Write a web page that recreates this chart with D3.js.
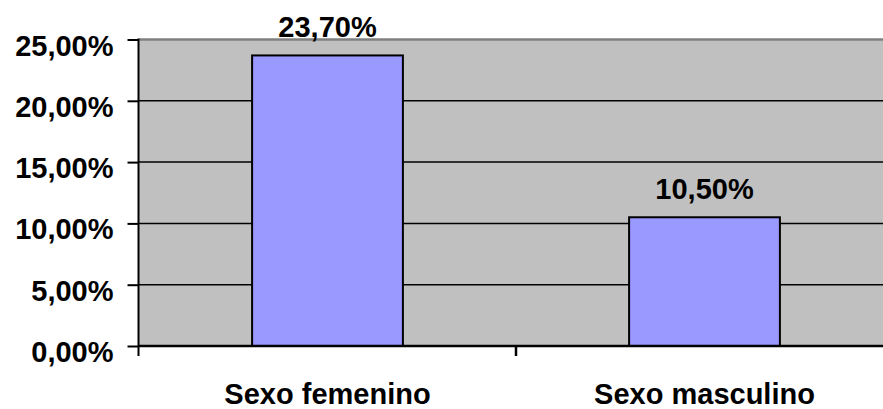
<!DOCTYPE html>
<html>
<head>
<meta charset="utf-8">
<script src="https://cdn.jsdelivr.net/npm/d3@7"></script>
<style>
  html, body { margin: 0; padding: 0; background: #fff; }
  svg { display: block; }
  text { font-family: "Liberation Sans", Arial, sans-serif; font-weight: bold; fill: #000; }
</style>
</head>
<body>
<svg id="chart" width="883" height="409"></svg>
<script>
const categories = ["Sexo femenino", "Sexo masculino"];
const values = [23.70, 10.50];
const yTicks = [0, 5, 10, 15, 20, 25];
const yTickLabels = ["0,00%", "5,00%", "10,00%", "15,00%", "20,00%", "25,00%"];
const valueLabels = ["23,70%", "10,50%"];

const svg = d3.select("#chart");
const pLeft = 139, pRight = 893, pTop = 39.5, pBottom = 346;

const x = d3.scaleBand().domain(categories).range([pLeft, pRight]).paddingInner(0).paddingOuter(0);
const y = d3.scaleLinear().domain([0, 25]).range([pBottom, pTop]);

// plot background
svg.append("rect")
  .attr("x", pLeft).attr("y", pTop)
  .attr("width", pRight - pLeft).attr("height", pBottom - pTop)
  .attr("fill", "#C0C0C0");

// gridlines
svg.append("g").selectAll("line")
  .data(yTicks.filter(t => t > 0 && t < 25))
  .join("line")
  .attr("x1", pLeft).attr("x2", pRight)
  .attr("y1", d => y(d)).attr("y2", d => y(d))
  .attr("stroke", "#000").attr("stroke-width", 1.5);

// top border
svg.append("line")
  .attr("x1", pLeft).attr("x2", pRight)
  .attr("y1", y(25)).attr("y2", y(25))
  .attr("stroke", "#808080").attr("stroke-width", 2.5);

// bars
const barW = x.bandwidth() * 0.4;
svg.append("g").selectAll("rect")
  .data(values)
  .join("rect")
  .attr("x", (d, i) => x(categories[i]) + (x.bandwidth() - barW) / 2)
  .attr("y", d => y(d))
  .attr("width", barW)
  .attr("height", d => y(0) - y(d))
  .attr("fill", "#9999FF")
  .attr("stroke", "#000")
  .attr("stroke-width", 2);

// value labels
svg.append("g").selectAll("text")
  .data(values)
  .join("text")
  .attr("x", (d, i) => x(categories[i]) + x.bandwidth() / 2)
  .attr("y", d => y(d) - 18.5)
  .attr("text-anchor", "middle")
  .attr("font-size", 29)
  .text((d, i) => valueLabels[i]);

// y axis
const yAxis = d3.axisLeft(y).tickValues(yTicks).tickFormat((d, i) => yTickLabels[i]).tickSize(11).tickPadding(14);
const gy = svg.append("g").attr("transform", `translate(${pLeft - 0.5},0)`).call(yAxis);
gy.select(".domain").remove();
gy.selectAll(".tick line").attr("stroke", "#000").attr("stroke-width", 2);
gy.selectAll(".tick text")
  .attr("font-size", 29).attr("font-family", "Liberation Sans, Arial, sans-serif")
  .attr("font-weight", "bold").attr("fill", "#000")
  .attr("dy", "0").attr("y", 15.5);
gy.append("line").attr("x1", 0).attr("x2", 0).attr("y1", pTop - 1).attr("y2", pBottom + 10)
  .attr("stroke", "#000").attr("stroke-width", 2);

// x axis
svg.append("line")
  .attr("x1", pLeft - 1).attr("x2", pRight)
  .attr("y1", pBottom).attr("y2", pBottom)
  .attr("stroke", "#000").attr("stroke-width", 2.5);
const boundaries = [x(categories[1])];
svg.append("g").selectAll("line")
  .data(boundaries)
  .join("line")
  .attr("x1", d => d).attr("x2", d => d)
  .attr("y1", pBottom).attr("y2", pBottom + 10)
  .attr("stroke", "#000").attr("stroke-width", 2.5);

// category labels
svg.append("g").selectAll("text")
  .data(categories)
  .join("text")
  .attr("x", d => x(d) + x.bandwidth() / 2)
  .attr("y", 404)
  .attr("text-anchor", "middle")
  .attr("font-size", 29)
  .text(d => d);
</script>
</body>
</html>
